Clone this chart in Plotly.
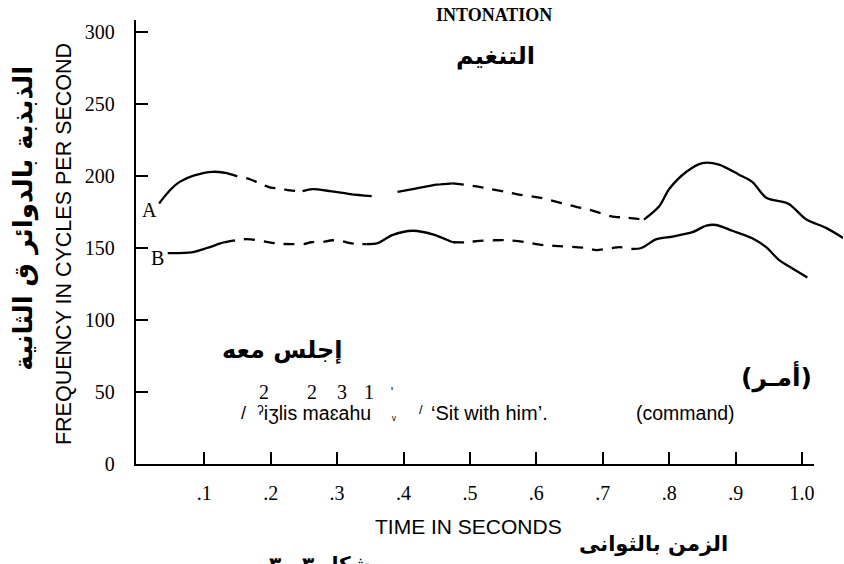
import plotly.graph_objects as go

W, H = 844, 564

# ---------------- data ----------------
# Curve A segments (time s, frequency cps)
a1_t = [0.032, 0.048, 0.063, 0.085, 0.113, 0.134]
a1_f = [181.0, 190.0, 196.0, 200.5, 203.0, 202.0]
a2_t = [0.134, 0.149, 0.168, 0.183, 0.200, 0.213, 0.229, 0.248]
a2_f = [202.0, 200.0, 198.0, 195.0, 192.0, 191.5, 190.0, 189.5]
a3_t = [0.248, 0.263, 0.290, 0.320, 0.352]
a3_f = [189.5, 191.0, 189.5, 187.5, 186.0]
a4_t = [0.391, 0.420, 0.450, 0.474]
a4_f = [189.0, 191.5, 194.0, 195.0]
a5_t = [0.474, 0.507, 0.525, 0.555, 0.570, 0.600, 0.615, 0.660, 0.677, 0.698, 0.713, 0.737, 0.762]
a5_f = [195.0, 193.0, 191.5, 189.0, 187.5, 185.4, 184.0, 178.6, 177.0, 174.0, 172.0, 171.0, 169.7]
a6_t = [0.762, 0.785, 0.800, 0.826, 0.850, 0.875, 0.905, 0.925, 0.946, 0.980, 1.006, 1.036, 1.062]
a6_f = [169.7, 179.0, 191.0, 203.0, 209.0, 208.0, 201.0, 196.0, 185.0, 180.6, 170.0, 164.0, 157.0]

# Curve B segments
b1_t = [0.045, 0.081, 0.104, 0.123, 0.130]
b1_f = [146.5, 147.0, 150.0, 153.0, 154.0]
b2_t = [0.130, 0.156, 0.170, 0.198, 0.211, 0.233, 0.250, 0.261, 0.275, 0.293, 0.305, 0.314, 0.325, 0.344]
b2_f = [154.0, 156.0, 156.0, 154.0, 153.0, 152.7, 152.7, 154.0, 154.0, 155.4, 155.0, 154.0, 153.0, 152.7]
b3_t = [0.344, 0.361, 0.383, 0.414, 0.444, 0.474]
b3_f = [152.7, 153.4, 159.0, 162.0, 159.5, 154.0]
b4_t = [0.474, 0.495, 0.514, 0.537, 0.556, 0.586, 0.600, 0.612, 0.627, 0.675, 0.690, 0.714, 0.725, 0.743]
b4_f = [154.0, 154.0, 155.0, 155.4, 155.4, 154.0, 152.7, 152.0, 151.5, 150.0, 148.6, 150.0, 150.6, 149.3]
b5_t = [0.743, 0.758, 0.780, 0.805, 0.835, 0.856, 0.871, 0.895, 0.925, 0.946, 0.965, 0.985, 1.008]
b5_f = [149.3, 150.0, 156.0, 158.0, 161.0, 165.6, 166.0, 162.0, 156.8, 150.6, 141.8, 136.0, 129.5]

segments = [
    (a1_t, a1_f, "solid"), (a2_t, a2_f, "dash"), (a3_t, a3_f, "solid"),
    (a4_t, a4_f, "solid"), (a5_t, a5_f, "dash"), (a6_t, a6_f, "solid"),
    (b1_t, b1_f, "solid"), (b2_t, b2_f, "dash"), (b3_t, b3_f, "solid"),
    (b4_t, b4_f, "dash"), (b5_t, b5_f, "solid"),
]

x_tickvals = [0.1, 0.2, 0.3, 0.4, 0.5, 0.6, 0.7, 0.8, 0.9, 1.0]
x_ticktext = [".1", ".2", ".3", ".4", ".5", ".6", ".7", ".8", ".9", "1.0"]
y_tickvals = [0, 50, 100, 150, 200, 250, 300]
y_ticktext = ["0", "50", "100", "150", "200", "250", "300"]

# ---------------- geometry ----------------
X0_PX, X_SCALE = 138.0, 665.0     # pixel of t=0, pixels per second
Y0_PX, Y_SCALE = 473.0, 1.467     # pixel of f=0, pixels per cps


def px(x):
    return x / W


def py(y):
    return 1 - y / H


SERIF = "Liberation Serif"
SANS = "Liberation Sans"
ARAB = "DejaVu Sans"
DASH = "11px,9px"

fig = go.Figure()
for t, f, style in segments:
    fig.add_trace(go.Scatter(
        x=t, y=f, mode="lines", xaxis="x2", yaxis="y2",
        line=dict(color="black", width=2.3, shape="spline", smoothing=0.8,
                  dash=DASH if style == "dash" else "solid"),
        hoverinfo="skip", showlegend=False))

# invisible reference trace for visible axes
fig.add_trace(go.Scatter(x=[0.5], y=[100], mode="markers", marker=dict(opacity=0),
                         showlegend=False, hoverinfo="skip"))

TICKFONT = dict(family=SERIF, size=20, color="black")

fig.update_layout(
    width=W, height=H,
    margin=dict(l=0, r=0, t=0, b=0),
    font=dict(family=SERIF, size=17, color="black"),
    paper_bgcolor="white", plot_bgcolor="rgba(0,0,0,0)",
    xaxis=dict(domain=[136 / W, 815 / W],
               range=[(136 - X0_PX) / X_SCALE, (815 - X0_PX) / X_SCALE],
               tickmode="array", tickvals=x_tickvals, ticktext=x_ticktext,
               ticklabelstandoff=10, tickfont=TICKFONT,
               showgrid=False, zeroline=False, showline=True, linecolor="black",
               linewidth=2, ticks="inside", ticklen=12, tickwidth=2, tickcolor="black",
               anchor="y"),
    yaxis=dict(domain=[1 - Y0_PX / H, 1 - 20 / H],
               range=[0, (Y0_PX - 20) / Y_SCALE],
               tickmode="array", tickvals=y_tickvals, ticktext=y_ticktext,
               ticklabelstandoff=15, tickfont=TICKFONT,
               showgrid=False, zeroline=False, showline=True, linecolor="black",
               linewidth=2, ticks="inside", ticklen=12, tickwidth=2, tickcolor="black",
               anchor="x"),
    xaxis2=dict(domain=[0, 1], range=[-X0_PX / X_SCALE, (W - X0_PX) / X_SCALE],
                visible=False, anchor="y2"),
    yaxis2=dict(domain=[0, 1], range=[(Y0_PX - H) / Y_SCALE, Y0_PX / Y_SCALE],
                visible=False, anchor="x2"),
)


def note(text, x, y, family, size, bold=False, angle=0, xanchor="center", yanchor="middle"):
    fig.add_annotation(text=text, x=px(x), y=py(y), xref="paper", yref="paper",
                       showarrow=False, xanchor=xanchor, yanchor=yanchor,
                       textangle=angle, borderpad=0,
                       font=dict(family=family, size=size, color="black",
                                 weight="bold" if bold else "normal"))


note("INTONATION", 495, 15, SERIF, 18, bold=True)
note("التنغيم", 496, 57, ARAB, 24, bold=True)
note("FREQUENCY IN CYCLES PER SECOND", 64, 249, SANS, 21.5, angle=-90)
note("الذبذبة بالدوائر ق الثانية", 24, 222, ARAB, 26, bold=True, angle=-90)
note("A", 150, 214, SERIF, 20)
note("B", 158, 263, SERIF, 20)
note("إجلس معه", 283, 357, ARAB, 24, bold=True)
note("2", 264, 400, SERIF, 20)
note("2", 312, 400, SERIF, 20)
note("3", 342, 400, SERIF, 20)
note("1", 369, 400, SERIF, 20)
note("ˈ", 392, 402, SERIF, 18)
note("/", 244, 421, SANS, 18)
note("ˀiʒlis maɛahu", 256, 421, SANS, 19.5, xanchor="left")
note("ᵥ", 394, 424, SANS, 12)
note("/", 421, 418, SANS, 13)
note("‘Sit with him’.", 431, 421, SANS, 20, xanchor="left")
note("(command)", 686, 421, SANS, 19.5)
note("(أمـر)", 777, 384, ARAB, 25, bold=True)
note("TIME IN SECONDS", 469, 537, SANS, 21)
note("الزمن بالثوانى", 654, 555, ARAB, 21, bold=True)
note("شكل ٣ ـ ٣", 320, 562, ARAB, 20, bold=True, yanchor="top")

fig.write_html("out.html", config={"displayModeBar": False},
               post_script="document.body.style.margin='0';document.body.style.overflow='hidden';")
